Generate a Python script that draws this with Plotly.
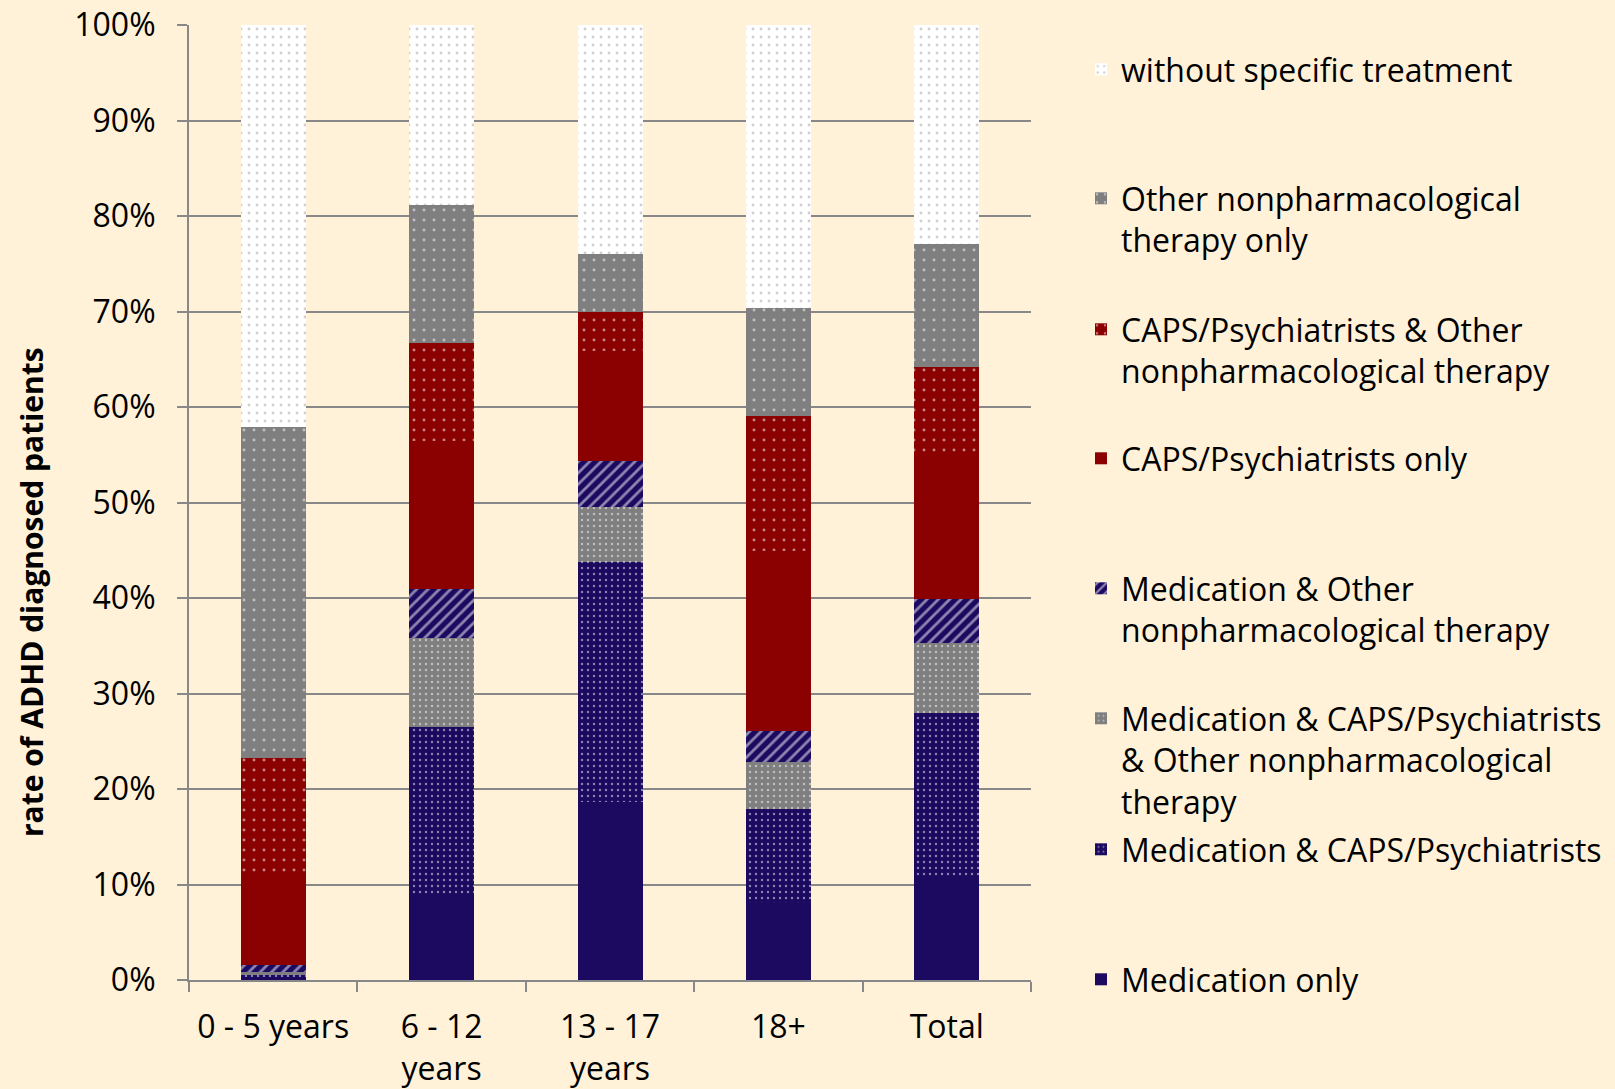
import plotly.graph_objects as go

categories = ["0 - 5 years", "6 - 12<br>years", "13 - 17<br>years", "18+", "Total"]

medication_only = [0.003, 0.090, 0.186, 0.081, 0.108]
medication_caps = [0.003, 0.175, 0.252, 0.098, 0.172]
medication_caps_other = [0.002, 0.093, 0.057, 0.049, 0.073]
medication_other = [0.008, 0.051, 0.048, 0.033, 0.046]
caps_only = [0.094, 0.155, 0.116, 0.188, 0.150]
caps_other = [0.122, 0.103, 0.041, 0.142, 0.093]
other_only = [0.347, 0.145, 0.060, 0.113, 0.129]
without_treatment = [0.421, 0.188, 0.240, 0.296, 0.229]

series_names = [
    "Medication only",
    "Medication & CAPS/Psychiatrists",
    "Medication & CAPS/Psychiatrists<br>& Other nonpharmacological<br>therapy",
    "Medication & Other<br>nonpharmacological therapy",
    "CAPS/Psychiatrists only",
    "CAPS/Psychiatrists & Other<br>nonpharmacological therapy",
    "Other nonpharmacological<br>therapy only",
    "without specific treatment",
]
series_values = [medication_only, medication_caps, medication_caps_other, medication_other,
                 caps_only, caps_other, other_only, without_treatment]

y_title = "rate of ADHD diagnosed patients"

NAVY = "#1B0A60"
RED = "#8B0000"
GRAY = "#7F7F7F"
BG = "#FFF2D9"
GRID = "#888888"

styles = [
    dict(color=NAVY, pattern=dict(shape="")),
    dict(color=NAVY, pattern=dict(shape=".", fgcolor="#FFFFFF", bgcolor=NAVY, size=6, solidity=0.12)),
    dict(color=GRAY, pattern=dict(shape=".", fgcolor="#FFFFFF", bgcolor=GRAY, size=6, solidity=0.12)),
    dict(color=NAVY, pattern=dict(shape="/", fgcolor="#FFFFFF", bgcolor=NAVY, size=8, solidity=0.35)),
    dict(color=RED, pattern=dict(shape="")),
    dict(color=RED, pattern=dict(shape=".", fgcolor="#FFFFFF", bgcolor=RED, size=10, solidity=0.07)),
    dict(color=GRAY, pattern=dict(shape=".", fgcolor="#FFFFFF", bgcolor=GRAY, size=10, solidity=0.07)),
    dict(color="#FFFFFF", pattern=dict(shape=".", fgcolor="#A0A0A0", bgcolor="#FFFFFF", size=8, solidity=0.1)),
]

# legend marker pixel rows
legend_rows_px = {7: 70, 6: 199, 5: 330, 4: 459, 3: 589, 2: 719, 1: 850, 0: 980}

PLOT_L, PLOT_R, PLOT_T, PLOT_B = 189, 1031, 25, 980
W, H = 1615, 1089
FONT = "Open Sans"
FS = 32

fig = go.Figure()
for i, (name, vals) in enumerate(zip(series_names, series_values)):
    st = styles[i]
    fig.add_trace(go.Bar(
        x=categories, y=vals, name=name,
        marker=dict(color=st["color"], pattern=st["pattern"], line=dict(width=0)),
        legend=f"legend{i+2}",
    ))

layout_legends = {"legend": dict(visible=False)}
for i in range(8):
    py = legend_rows_px[i]
    ypaper = (PLOT_B - (py - 28)) / (PLOT_B - PLOT_T)
    xpaper = (1081 - PLOT_L) / (PLOT_R - PLOT_L)
    layout_legends[f"legend{i+2}"] = dict(
        x=xpaper, y=ypaper, xanchor="left", yanchor="top",
        bgcolor="rgba(0,0,0,0)", borderwidth=0, valign="top",
        font=dict(family=FONT, size=FS, color="#000000"),
        itemwidth=30, tracegroupgap=0,
    )

fig.update_layout(
    barmode="stack",
    bargap=0.614,
    width=W, height=H,
    paper_bgcolor=BG, plot_bgcolor=BG,
    margin=dict(l=PLOT_L, r=W - PLOT_R, t=PLOT_T, b=H - PLOT_B, autoexpand=False),
    font=dict(family=FONT, size=FS, color="#000000"),
    **layout_legends,
)
fig.update_xaxes(
    showline=True, linecolor=GRID, linewidth=2,
    ticks="outside", tickson="boundaries", ticklen=10, tickwidth=2, tickcolor=GRID,
    showgrid=False, tickfont=dict(family=FONT, size=FS),
    ticklabelstandoff=18,
)
fig.update_yaxes(
    range=[0, 1], dtick=0.1, tickformat=".0%",
    showline=True, linecolor=GRID, linewidth=2,
    ticks="outside", ticklen=10, tickwidth=2, tickcolor=GRID,
    showgrid=True, gridcolor=GRID, gridwidth=2,
    ticklabelstandoff=15,
    tickfont=dict(family=FONT, size=FS),
    zeroline=False,
)
fig.add_annotation(
    text=f"<b>{y_title}</b>", textangle=-90,
    xref="paper", yref="paper",
    x=(31 - PLOT_L) / (PLOT_R - PLOT_L), y=(PLOT_B - 592) / (PLOT_B - PLOT_T),
    xanchor="center", yanchor="middle", showarrow=False,
    font=dict(family=FONT, size=30, color="#000000"),
)

fig.write_html(
    "out.html",
    config={"displayModeBar": False},
    post_script="document.body.style.margin='0';document.body.style.background='#FFF2D9';",
)
